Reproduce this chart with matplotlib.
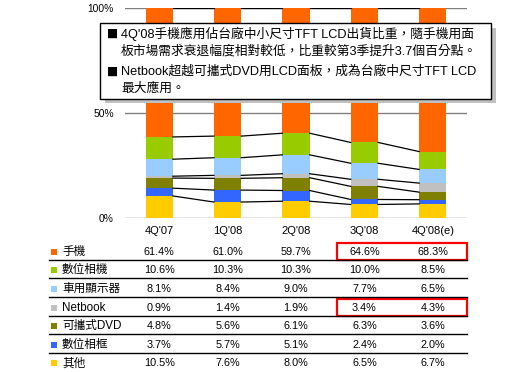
import numpy as np
import matplotlib
matplotlib.use('Agg')
import matplotlib.pyplot as plt
from matplotlib.patches import Rectangle
from matplotlib.transforms import blended_transform_factory

plt.rcParams['font.family'] = ['Liberation Sans', 'Noto Sans CJK TC', 'DejaVu Sans']

quarters = ["4Q'07", "1Q'08", "2Q'08", "3Q'08", "4Q'08(e)"]

# stacking order, bottom to top
series = ['其他', '數位相框', '可攜式DVD', 'Netbook', '車用顯示器', '數位相機', '手機']
colors = ['#FFCC00', '#3366FF', '#808000', '#C0C0C0', '#99CCFF', '#99CC00', '#FF6600']
other = [10.5, 7.6, 8.0, 6.5, 6.7]
photo_frame = [3.7, 5.7, 5.1, 2.4, 2.0]
dvd = [4.8, 5.6, 6.1, 6.3, 3.6]
netbook = [0.9, 1.4, 1.9, 3.4, 4.3]
car = [8.1, 8.4, 9.0, 7.7, 6.5]
camera = [10.6, 10.3, 10.3, 10.0, 8.5]
phone = [61.4, 61.0, 59.7, 64.6, 68.3]

yticks = [0, 50, 100]
ytick_labels = ['0%', '50%', '100%']

note1 = ["4Q'08手機應用佔台廠中小尺寸TFT LCD出貨比重，隨手機用面",
         "板市場需求衰退幅度相對較低，比重較第3季提升3.7個百分點。"]
note2 = ["Netbook超越可攜式DVD用LCD面板，成為台廠中尺寸TFT LCD",
         "最大應用。"]

data = np.array([other, photo_frame, dvd, netbook, car, camera, phone])
pct = data / data.sum(axis=0) * 100  # 100% stacked
x = np.arange(len(quarters))
w = 0.4

fig = plt.figure(figsize=(5.19, 3.72), dpi=100)
ax = fig.add_axes([125/519, 1 - 218/372, 342/519, 210/372])

bottom = np.zeros(len(quarters))
tops = []
for i in range(len(series)):
    ax.bar(x, pct[i], w, bottom=bottom, color=colors[i], zorder=2)
    bottom = bottom + pct[i]
    tops.append(bottom.copy())

# series lines between bars
for t in tops:
    for j in range(len(quarters) - 1):
        ax.plot([x[j] + w/2, x[j+1] - w/2], [t[j], t[j+1]], color='black', lw=0.9, zorder=3)

for yt in yticks:
    ax.axhline(yt, color='#808080', lw=1, zorder=1)

ax.set_xlim(-0.5, 4.5)
ax.set_ylim(0, 100)
ax.set_yticks(yticks)
ax.set_yticklabels(ytick_labels, fontsize=7.4)
ax.set_xticks(x)
ax.set_xticklabels(quarters, fontsize=8)
ax.tick_params(length=0, pad=6)
ax.tick_params(axis='y', pad=8)
for s in ax.spines.values():
    s.set_visible(False)

# overlay in pixel coordinates for table and callout
ov = fig.add_axes([0, 0, 1, 1], zorder=5)
ov.set_xlim(0, 519)
ov.set_ylim(372, 0)
ov.axis('off')
ov.patch.set_alpha(0)
tr = blended_transform_factory(ax.transData, ov.transData)

# callout box with shadow
ov.add_patch(Rectangle((105, 28), 391, 75, facecolor='#C0C0C0', edgecolor='none'))
ov.add_patch(Rectangle((100, 23), 391, 75.5, facecolor='white', edgecolor='black', lw=1))
line_y = [33.5, 50.8, 71.7, 88.5]
ov.text(106.5, line_y[0], '■', fontsize=8.5, va='center', family=['DejaVu Sans'])
ov.text(121, line_y[0], note1[0], fontsize=9.2, va='center')
ov.text(121, line_y[1], note1[1], fontsize=9.2, va='center')
ov.text(106.5, line_y[2], '■', fontsize=8.5, va='center', family=['DejaVu Sans'])
ov.text(121, line_y[2], note2[0], fontsize=9.2, va='center')
ov.text(121, line_y[3], note2[1], fontsize=9.2, va='center')

# data table, top row = 手機
row_y0 = 251.8
row_h = 18.6
for r, i in enumerate(range(len(series) - 1, -1, -1)):
    yc = row_y0 + r * row_h
    ov.scatter([54], [yc], marker='s', s=24, color=colors[i], linewidths=0)
    ov.text(62, yc, series[i], fontsize=8.4, va='center')
    for j in range(len(quarters)):
        ov.text(x[j], yc, f'{data[i][j]:.1f}%', fontsize=7.8, va='center', ha='center', transform=tr)
    if r < len(series) - 1:
        ov.plot([49, 467], [yc + 8, yc + 8], color='black', lw=1)

# red highlight boxes
for yb in [243.3, 299.3]:
    ov.add_patch(Rectangle((2.605, yb), 4.5 - 2.605, 16.5, facecolor='none', edgecolor='#FF0000', lw=1.6, transform=tr))

fig.savefig('out.png', dpi=100)
